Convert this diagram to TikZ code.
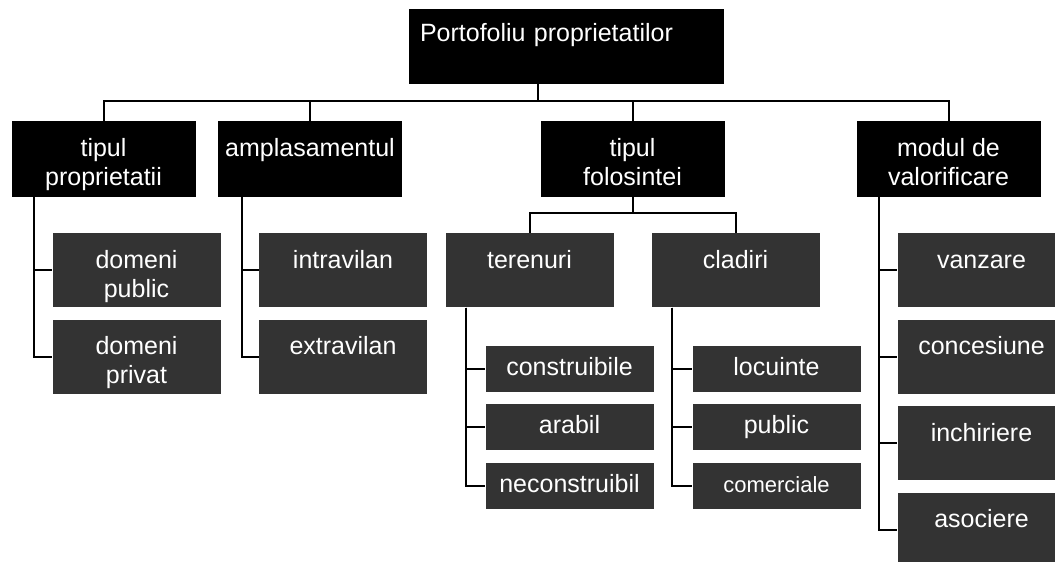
\documentclass[tikz,border=0pt]{standalone}
\usepackage{fontspec}
\setmainfont{Liberation Sans}
\usetikzlibrary{positioning}

\begin{document}
\begin{tikzpicture}[
  x=1pt, y=-1pt,
  root/.style={rectangle, fill=black, text=white, text width=293pt, align=left, inner ysep=0pt, inner xsep=11pt, text height=32pt, text depth=43pt},
  head/.style={rectangle, fill=black, text=white, minimum width=184pt, minimum height=76pt, align=center, inner sep=0pt, text height=35pt, text depth=41pt},
  headtwo/.style={head, text height=64pt, text depth=12pt},
  leaf/.style={rectangle, fill=black!80, text=white, minimum width=168pt, minimum height=74pt, align=center, inner sep=0pt, text height=35pt, text depth=39pt},
  leaftwo/.style={leaf, text height=64pt, text depth=10pt},
  slim/.style={rectangle, fill=black!80, text=white, minimum width=168pt, minimum height=46pt, inner sep=0pt, text height=18pt, text depth=5pt},
  line/.style={draw=black, line width=2pt},
  every node/.style={font=\fontsize{25}{29}\selectfont}
]
\useasboundingbox (0,0) rectangle (1055,562);

% === RADICE ===
\node[root] (portofoliu) at (566.5,46.5) {Portofoliu proprietatilor};
\coordinate (hub) at (538,101);

% === CRITERII ===
\node[headtwo] (tipprop) at (103.5,159) {tipul\\proprietatii};
\node[head] (amplas) at (310,159) {amplasamentul};
\node[headtwo] (folos) at (632.5,159) {tipul\\folosintei};
\node[headtwo] (modul) at (948.5,159) {modul de\\valorificare};

% === TIPUL PROPRIETATII ===
\node[leaftwo, below right=36pt and 41pt of tipprop.south west] (dpublic) {domeni\\public};
\node[leaftwo, below=12pt of dpublic] (dprivat) {domeni\\privat};

% === AMPLASAMENTUL ===
\node[leaf, below right=36pt and 41pt of amplas.south west] (intravilan) {intravilan};
\node[leaf, below=12pt of intravilan] (extravilan) {extravilan};

% === TIPUL FOLOSINTEI ===
\node[leaf, below=36pt of folos, xshift=-103pt] (terenuri) {terenuri};
\node[leaf, below=36pt of folos, xshift=103pt] (cladiri) {cladiri};

\node[slim, below right=38pt and 40pt of terenuri.south west] (construibile) {construibile};
\node[slim, below=12pt of construibile] (arabil) {arabil};
\node[slim, below=12pt of arabil] (neconstruibil) {neconstruibil};

\node[slim, below right=38pt and 41pt of cladiri.south west] (locuinte) {locuinte};
\node[slim, below=12pt of locuinte] (public) {public};
\node[slim, below=12pt of public, font=\fontsize{22}{26}\selectfont] (comerciale) {comerciale};

% === MODUL DE VALORIFICARE ===
\node[leaf, below right=36pt and 41pt of modul.south west] (vanzare) {vanzare};
\node[leaf, below=12pt of vanzare] (concesiune) {concesiune};
\node[leaf, below=12pt of concesiune] (inchiriere) {inchiriere};
\node[leaf, below=12pt of inchiriere] (asociere) {asociere};

% === COLLEGAMENTI ===
\draw[line] (portofoliu.south -| hub) -- (hub);
\foreach \h in {tipprop,amplas,folos,modul}
  \draw[line] (hub) -| (\h.north);

\coordinate (tpTrunk) at ([xshift=23pt]tipprop.south west);
\foreach \c in {dpublic,dprivat}
  \draw[line] (tpTrunk) |- (\c.west);

\coordinate (amTrunk) at ([xshift=24pt]amplas.south west);
\foreach \c in {intravilan,extravilan}
  \draw[line] (amTrunk) |- (\c.west);

\coordinate[below=16pt of folos.south] (fork);
\draw[line] (folos.south) -- (fork);
\foreach \c in {terenuri,cladiri}
  \draw[line] (fork) -| (\c.north);

\coordinate (teTrunk) at ([xshift=21pt]terenuri.south west);
\foreach \c in {construibile,arabil,neconstruibil}
  \draw[line] (teTrunk) |- (\c.west);

\coordinate (clTrunk) at ([xshift=21pt]cladiri.south west);
\foreach \c in {locuinte,public,comerciale}
  \draw[line] (clTrunk) |- (\c.west);

\coordinate (moTrunk) at ([xshift=23pt]modul.south west);
\foreach \c in {vanzare,concesiune,inchiriere,asociere}
  \draw[line] (moTrunk) |- (\c.west);

\end{tikzpicture}
\end{document}
